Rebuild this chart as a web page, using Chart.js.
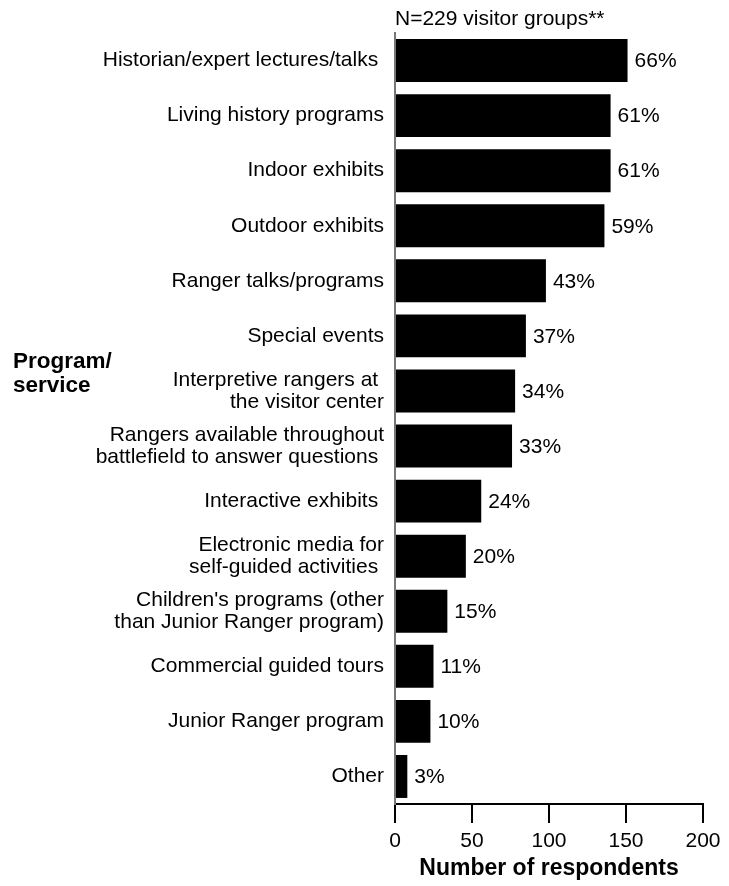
<!DOCTYPE html>
<html>
<head>
<meta charset="utf-8">
<script src="https://cdn.jsdelivr.net/npm/chart.js@4/dist/chart.umd.min.js"></script>
<style>
  html, body { margin: 0; padding: 0; background: #fff; }
  #wrap { width: 729px; height: 886px; position: relative; }
</style>
</head>
<body>
<div id="wrap"><canvas id="chart" width="729" height="886"></canvas></div>
<script>
// Programs/services used, number of visitor groups
const categories = [
  'Historian/expert lectures/talks ',
  'Living history programs',
  'Indoor exhibits',
  'Outdoor exhibits',
  'Ranger talks/programs',
  'Special events',
  ['Interpretive rangers at ', 'the visitor center'],
  ['Rangers available throughout', 'battlefield to answer questions '],
  'Interactive exhibits ',
  ['Electronic media for', 'self-guided activities '],
  ["Children's programs (other", 'than Junior Ranger program)'],
  'Commercial guided tours',
  'Junior Ranger program',
  'Other'
];
const respondents = [151, 140, 140, 136, 98, 85, 78, 76, 56, 46, 34, 25, 23, 8];
const percentLabels = ['66%', '61%', '61%', '59%', '43%', '37%', '34%', '33%', '24%', '20%', '15%', '11%', '10%', '3%'];
const xTicks = [0, 50, 100, 150, 200];
const sampleNote = 'N=229 visitor groups**';
const axisTitle = 'Number of respondents';
const sideTitle = ['Program/', 'service'];

const FONT = '"Liberation Sans", Arial, sans-serif';

const annotations = {
  id: 'annotations',
  afterDatasetsDraw(chart) {
    const ctx = chart.ctx;
    const meta = chart.getDatasetMeta(0);
    ctx.save();
    ctx.fillStyle = '#000';
    ctx.font = '21px ' + FONT;
    ctx.textAlign = 'left';
    ctx.textBaseline = 'middle';
    meta.data.forEach((bar, i) => {
      ctx.fillText(percentLabels[i], bar.x + 7, bar.y + 1);
    });
    const area = chart.chartArea;
    ctx.textBaseline = 'alphabetic';
    ctx.fillText(sampleNote, area.left, 25);
    ctx.font = 'bold 22.5px ' + FONT;
    ctx.fillText(sideTitle[0], 13, 368);
    ctx.fillText(sideTitle[1], 13, 392);
    ctx.font = 'bold 23px ' + FONT;
    ctx.textAlign = 'center';
    ctx.fillText(axisTitle, (area.left + area.right) / 2, 875);
    ctx.restore();
  }
};

new Chart(document.getElementById('chart'), {
  type: 'bar',
  data: {
    labels: categories,
    datasets: [{
      data: respondents,
      backgroundColor: '#000',
      borderWidth: 0,
      barPercentage: 0.78,
      categoryPercentage: 1.0
    }]
  },
  options: {
    indexAxis: 'y',
    responsive: false,
    animation: false,
    devicePixelRatio: 1,
    layout: { padding: { top: 33, right: 26, bottom: 0, left: 0 } },
    plugins: { legend: { display: false }, tooltip: { enabled: false } },
    scales: {
      x: {
        min: 0, max: 200,
        afterBuildTicks(scale) { scale.ticks = xTicks.map(v => ({ value: v })); },
        afterFit(scale) { scale.height = 82; },
        grid: { drawOnChartArea: false, drawTicks: true, tickLength: 19, color: '#000', lineWidth: 2 },
        border: { display: true, color: '#000', width: 2 },
        ticks: { color: '#000', font: { family: FONT, size: 21 }, padding: 6, maxRotation: 0 }
      },
      y: {
        afterFit(scale) { scale.width = 395; },
        grid: { display: false, drawTicks: false },
        border: { display: true, color: '#777', width: 2 },
        ticks: { color: '#000', font: { family: FONT, size: 21, lineHeight: 1.04 }, padding: 11, autoSkip: false }
      }
    }
  },
  plugins: [annotations]
});
</script>
</body>
</html>
